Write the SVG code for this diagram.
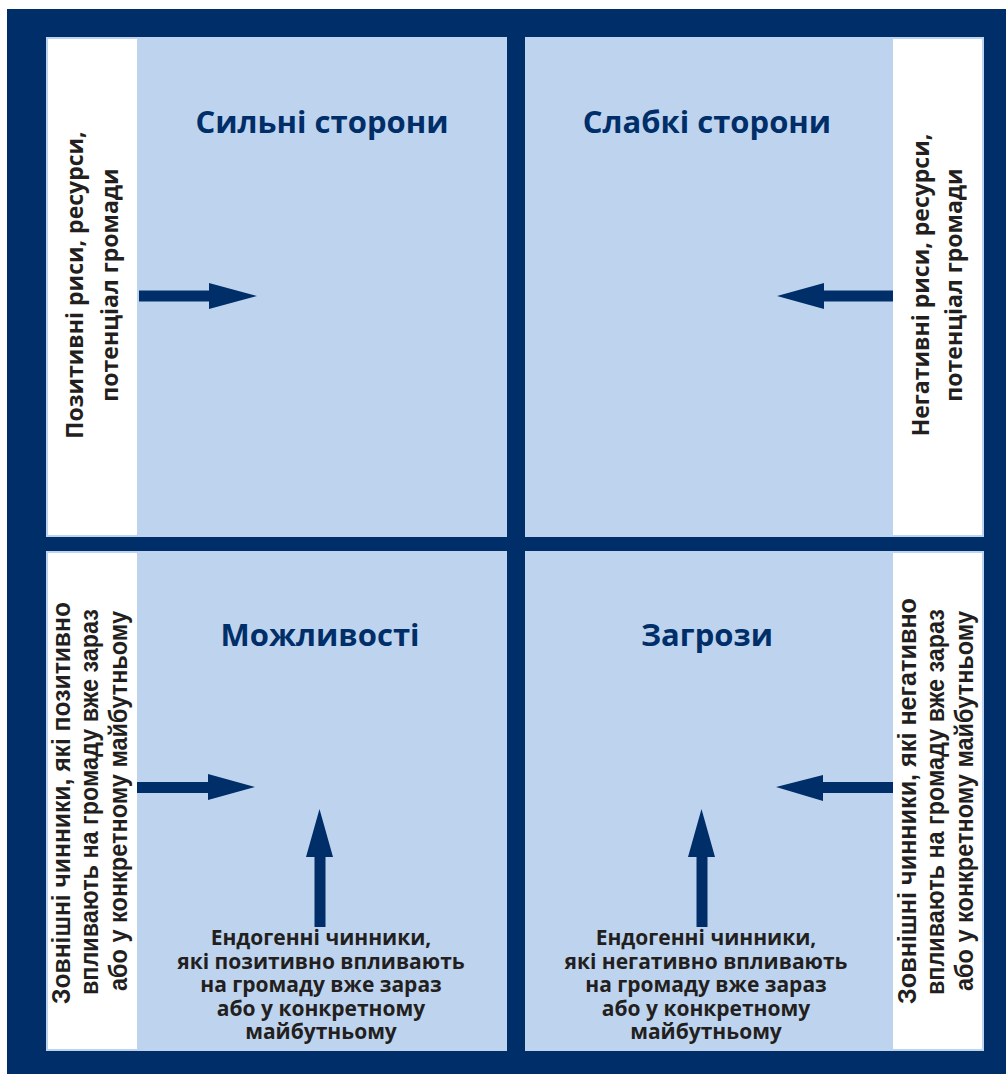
<svg xmlns="http://www.w3.org/2000/svg" width="1006" height="1074" viewBox="0 0 1006 1074">
<style>
.navy{fill:#002e69}
.quad{fill:#bed4ee}
.side{fill:#ffffff}
.title{font-family:"Open Sans","Noto Sans","DejaVu Sans",sans-serif;font-weight:700;font-size:31px;fill:#002e69;text-anchor:middle}
.stxt{font-family:"Open Sans","Noto Sans","DejaVu Sans",sans-serif;font-weight:700;font-size:23px;fill:#231f20;text-anchor:middle}
.ntxt{font-family:"Liberation Sans Narrow","Liberation Sans","Arial Narrow",sans-serif;font-weight:700;font-size:25px;fill:#231f20;text-anchor:middle}
.btxt{font-family:"Open Sans","Noto Sans","DejaVu Sans",sans-serif;font-weight:700;font-size:21px;fill:#231f20;text-anchor:middle}
.arrow{fill:#002e69}
</style>
<rect x="0" y="0" width="1006" height="1074" fill="#ffffff"/>
<rect class="navy" x="7" y="9" width="999" height="1065"/>

<g id="strengths">
<rect class="quad" x="46" y="37" width="461" height="500"/>
<rect class="side" x="48" y="39" width="89" height="496"/>
<text class="title" x="322" y="133">Сильні сторони</text>
<text class="stxt" transform="translate(83,285) rotate(-90)">Позитивні риси, ресурси,</text>
<text class="stxt" transform="translate(118,285) rotate(-90)">потенціал громади</text>
</g>

<g id="weaknesses">
<rect class="quad" x="525" y="37" width="459" height="500"/>
<rect class="side" x="893" y="39" width="89" height="496"/>
<text class="title" x="707" y="133">Слабкі сторони</text>
<text class="stxt" transform="translate(929,285) rotate(-90)">Негативні риси, ресурси,</text>
<text class="stxt" transform="translate(962,285) rotate(-90)">потенціал громади</text>
</g>

<g id="opportunities">
<rect class="quad" x="46" y="551" width="461" height="500"/>
<rect class="side" x="48" y="553" width="89" height="496"/>
<text class="title" x="320" y="646">Можливості</text>
<text class="ntxt" transform="translate(70,803) rotate(-90)" textLength="402" lengthAdjust="spacingAndGlyphs">Зовнішні чинники, які позитивно</text>
<text class="ntxt" transform="translate(98,802) rotate(-90)" textLength="386" lengthAdjust="spacingAndGlyphs">впливають на громаду вже зараз</text>
<text class="ntxt" transform="translate(127,801) rotate(-90)" textLength="380" lengthAdjust="spacingAndGlyphs">або у конкретному майбутньому</text>
<text class="btxt"><tspan x="321" y="945">Ендогенні чинники,</tspan><tspan x="321" y="968.5">які позитивно впливають</tspan><tspan x="321" y="992">на громаду вже зараз</tspan><tspan x="321" y="1015.5">або у конкретному</tspan><tspan x="321" y="1039">майбутньому</tspan></text>
</g>

<g id="threats">
<rect class="quad" x="525" y="551" width="459" height="500"/>
<rect class="side" x="893" y="553" width="89" height="496"/>
<text class="title" x="707" y="646">Загрози</text>
<text class="ntxt" transform="translate(916,801) rotate(-90)" textLength="406" lengthAdjust="spacingAndGlyphs">Зовнішні чинники, які негативно</text>
<text class="ntxt" transform="translate(944,802) rotate(-90)" textLength="386" lengthAdjust="spacingAndGlyphs">впливають на громаду вже зараз</text>
<text class="ntxt" transform="translate(973,801) rotate(-90)" textLength="380" lengthAdjust="spacingAndGlyphs">або у конкретному майбутньому</text>
<text class="btxt"><tspan x="706" y="945">Ендогенні чинники,</tspan><tspan x="706" y="968.5">які негативно впливають</tspan><tspan x="706" y="992">на громаду вже зараз</tspan><tspan x="706" y="1015.5">або у конкретному</tspan><tspan x="706" y="1039">майбутньому</tspan></text>
</g>

<g id="connectors">
<polygon class="arrow" points="139,290.5 209,290.5 209,283 257,296 209,309 209,301.5 139,301.5"/>
<polygon class="arrow" points="893,290.5 824,290.5 824,283 777,296 824,309 824,301.5 893,301.5"/>
<polygon class="arrow" points="137,782 208,782 208,774 255,787 208,800 208,793 137,793"/>
<polygon class="arrow" points="893,782 823,782 823,775 776,787 823,801 823,793 893,793"/>
<polygon class="arrow" points="314.5,927 314.5,857 306,857 319.5,809 333,857 325.5,857 325.5,927"/>
<polygon class="arrow" points="696.5,927 696.5,857 688,857 701.5,809 715,857 707.5,857 707.5,927"/>
</g>
</svg>
